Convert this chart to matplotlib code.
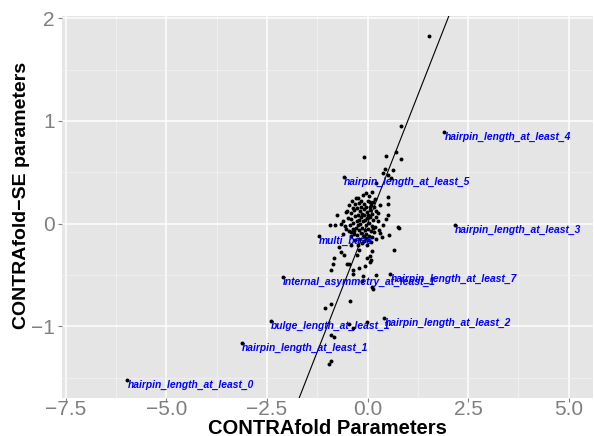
import matplotlib
matplotlib.use('Agg')
import matplotlib.pyplot as plt
from matplotlib.ticker import MultipleLocator

plt.rcParams['font.family'] = ['Liberation Sans', 'DejaVu Sans']

# Labelled features (CONTRAfold value, CONTRAfold-SE value)
label_names = ['hairpin_length_at_least_0', 'hairpin_length_at_least_1',
               'bulge_length_at_least_1', 'internal_asymmetry_at_least_1',
               'multi_base', 'hairpin_length_at_least_5', 'hairpin_length_at_least_4',
               'hairpin_length_at_least_3', 'hairpin_length_at_least_7',
               'hairpin_length_at_least_2']
label_x = [-5.97, -3.12, -2.40, -2.10, -1.20, -0.59, 1.91, 2.18, 0.57, 0.42]
label_y = [-1.52, -1.16, -0.95, -0.52, -0.12, 0.45, 0.89, -0.01, -0.49, -0.92]

# Other (unlabelled) parameters
other_x = [1.53, 0.83, -0.09, 0.47, 0.70, 0.84, 0.43, 0.64, 0.38, 0.50, 0.58, 0.22,
           0.50, -0.23, 0.05, 0.13, 0.50, -0.03, -0.36, -0.53, -0.77, 0.50, 0.46, 0.38,
           0.75, 0.77, 0.54, 0.30, -0.40, -0.53, -0.82, -0.94, -0.65, 0.35, 0.66, -0.01,
           0.12, 0.05, -0.02, 0.07, -0.07, -0.20, -0.36, -0.46, -0.59, -0.67, -0.72, -0.84,
           -0.86, -0.92, -0.26, -0.20, -0.24, -0.40, 0.21, 0.12, -0.12, -0.35, -0.13, 0.09,
           -0.51, 0.13, -0.92, -1.05, -0.43, -0.46, -0.37, -0.01, -0.90, -0.83, -0.92, -0.97]
other_y = [1.83, 0.95, 0.65, 0.66, 0.70, 0.63, 0.53, 0.52, 0.49, 0.47, 0.44, 0.39,
           0.26, 0.25, 0.21, 0.21, 0.19, 0.16, 0.15, 0.11, 0.08, 0.08, 0.04, -0.01,
           -0.03, -0.04, -0.11, -0.09, -0.08, -0.05, -0.01, -0.01, 0.00, -0.13, -0.26, -0.21,
           -0.27, -0.32, -0.34, -0.37, -0.41, -0.43, -0.45, -0.39, -0.31, -0.28, -0.23, -0.34,
           -0.39, -0.45, -0.31, -0.26, -0.21, -0.21, -0.50, -0.62, -0.51, -0.49, -0.56, -0.36,
           -0.39, -0.64, -0.78, -0.82, -0.75, -0.98, -1.02, -0.96, -1.09, -1.11, -1.34, -1.37]

# Dense cluster near the origin
blob_x = [-0.45, -0.38, -0.30, -0.22, -0.15, -0.08, 0.00, 0.08, 0.15, 0.22,
          -0.50, -0.42, -0.33, -0.25, -0.18, -0.10, -0.02, 0.05, 0.12, 0.20,
          -0.48, -0.40, -0.31, -0.24, -0.16, -0.09, -0.01, 0.06, 0.14, 0.25,
          -0.55, -0.44, -0.35, -0.27, -0.19, -0.12, -0.04, 0.03, 0.10, 0.18,
          -0.46, -0.37, -0.29, -0.21, -0.14, -0.06, 0.01, 0.08, 0.16, 0.28,
          -0.42, -0.33, -0.25, -0.17, -0.10, -0.03, 0.04, 0.12, 0.20,
          -0.30, -0.20, -0.08, 0.02, 0.09, -0.14,
          -0.12, 0.04, 0.18, -0.05, 0.10, 0.26, 0.30, -0.60, -0.62, -0.28,
          -0.20, -0.07, -0.13, -0.24, 0.00, -0.17, 0.07, -0.33, 0.13, -0.05]
blob_y = [0.18, 0.22, 0.19, 0.20, 0.22, 0.19, 0.22, 0.18, 0.16, 0.12,
          0.12, 0.10, 0.13, 0.15, 0.12, 0.14, 0.11, 0.13, 0.09, 0.06,
          0.05, 0.04, 0.07, 0.08, 0.06, 0.08, 0.05, 0.06, 0.03, 0.02,
          -0.02, -0.01, 0.01, 0.02, 0.00, 0.02, -0.01, 0.01, -0.02, -0.03,
          -0.07, -0.05, -0.04, -0.06, -0.04, -0.06, -0.05, -0.07, -0.08, -0.06,
          -0.12, -0.10, -0.11, -0.09, -0.12, -0.10, -0.12, -0.13, -0.15,
          -0.16, -0.15, -0.17, -0.16, -0.18, -0.19,
          0.28, 0.27, 0.24, 0.30, 0.31, 0.10, 0.18, 0.02, -0.10, 0.25,
          0.03, 0.03, 0.09, -0.01, 0.08, 0.16, 0.16, -0.07, -0.04, -0.14]

x_ticks = [-7.5, -5.0, -2.5, 0.0, 2.5, 5.0]
y_ticks = [-1, 0, 1, 2]

fig = plt.figure(figsize=(5.94, 4.36), dpi=100)
ax = fig.add_axes([0.104, 0.087, 0.894, 0.876])

# ggplot-like grey panel
ax.set_facecolor('#E5E5E5')
for s in ax.spines.values():
    s.set_visible(False)
ax.set_axisbelow(True)
ax.xaxis.set_minor_locator(MultipleLocator(1.25))
ax.yaxis.set_minor_locator(MultipleLocator(0.5))
ax.grid(which='major', color='white', linewidth=1.1)
ax.grid(which='minor', color='#F2F2F2', linewidth=0.6)

ax.scatter(other_x + blob_x, other_y + blob_y, s=8, color='black', zorder=3, linewidths=0)
ax.scatter(label_x, label_y, s=8, color='black', zorder=3, linewidths=0)
ax.axline((0, 0), slope=1, color='black', linewidth=0.8, zorder=2)

for name, x, y in zip(label_names, label_x, label_y):
    ax.text(x, y, name, color='#0000FF', fontsize=7.4, fontweight='bold',
            fontstyle='italic', ha='left', va='top', zorder=4)

ax.set_xlim(-7.6, 5.6)
ax.set_ylim(-1.70, 2.02)
ax.set_xticks(x_ticks)
ax.set_xticklabels([f'{t:.1f}'.replace('-', '\u2212') for t in x_ticks])
ax.set_yticks(y_ticks)
ax.set_yticklabels([str(t).replace('-', '\u2212') for t in y_ticks])
ax.tick_params(which='major', colors='#7F7F7F', labelsize=15, length=3, width=0.8)
ax.tick_params(axis='x', which='major', pad=-1.5)
ax.tick_params(axis='y', which='major', pad=2)
ax.tick_params(which='minor', length=0)

# axis titles placed in figure coordinates
fig.text(0.551, 1 - 428 / 436, 'CONTRAfold Parameters', fontsize=14.5,
         fontweight='bold', ha='center', va='center')
fig.text(22 / 594, 1 - 195 / 436, 'CONTRAfold\u2212SE parameters', fontsize=14,
         fontweight='bold', ha='center', va='center', rotation=90)

fig.savefig('out.png', dpi=100)
